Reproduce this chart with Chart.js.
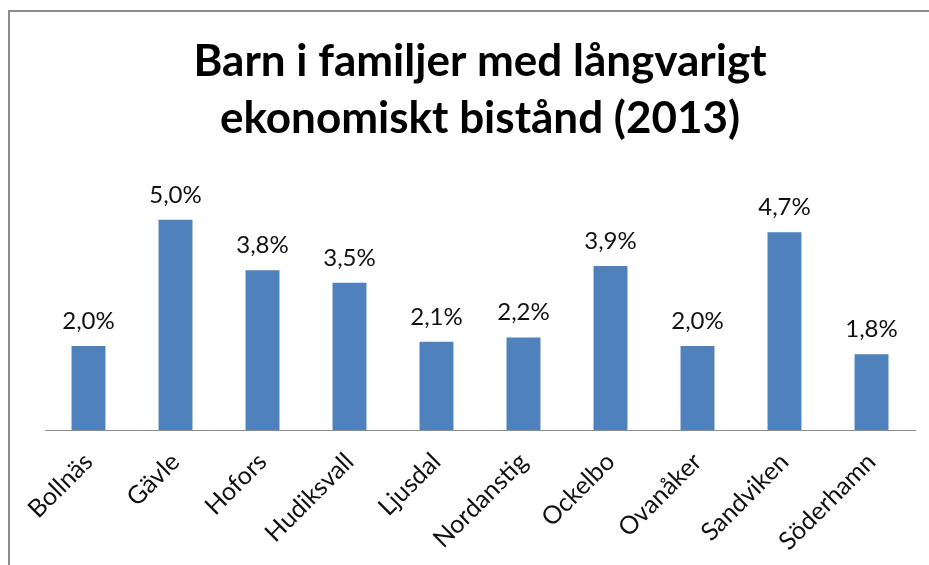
<!DOCTYPE html>
<html lang="sv">

<head>
    <meta charset="UTF-8">
    <title>Barn i familjer med långvarigt ekonomiskt bistånd (2013)</title>
    <style>
        html, body {
            margin: 0;
            padding: 0;
            background-color: #fff;
            overflow: hidden;
        }

        .frame {
            position: absolute;
            left: 8px;
            top: 10px;
            width: 960px;
            height: 600px;
            border: 2px solid #8c8c8c;
        }

        .chart-container {
            position: absolute;
            left: 0;
            top: 0;
            width: 929px;
            height: 565px;
        }
    </style>
</head>

<body>
    <div class="frame"></div>
    <div class="chart-container">
        <canvas id="bistand-chart" width="929" height="565"></canvas>
    </div>
    <script src="https://cdn.jsdelivr.net/npm/chart.js"></script>
    <script>
    const kommuner = ['Bollnäs', 'Gävle', 'Hofors', 'Hudiksvall', 'Ljusdal', 'Nordanstig', 'Ockelbo', 'Ovanåker', 'Sandviken', 'Söderhamn'];
    const andel = [2.0, 5.0, 3.8, 3.5, 2.1, 2.2, 3.9, 2.0, 4.7, 1.8];
    const titleLines = ['Barn i familjer med långvarigt', 'ekonomiskt bistånd (2013)'];

    const FONT = 'Lato, "Open Sans", sans-serif';

    // values over the bars, written with a decimal comma
    const valueLabels = {
        id: 'valueLabels',
        afterDatasetsDraw(chart) {
            const ctx = chart.ctx;
            const meta = chart.getDatasetMeta(0);
            ctx.save();
            ctx.font = '24px ' + FONT;
            ctx.fillStyle = '#111';
            ctx.textAlign = 'center';
            ctx.textBaseline = 'alphabetic';
            meta.data.forEach((bar, i) => {
                const txt = andel[i].toFixed(1).replace('.', ',') + '%';
                ctx.fillText(txt, bar.x, bar.y - 17);
            });
            ctx.restore();
        }
    };

    const ctx = document.getElementById('bistand-chart').getContext('2d');
    new Chart(ctx, {
        type: 'bar',
        data: {
            labels: kommuner,
            datasets: [{
                data: andel,
                backgroundColor: '#4f81bd',
                borderWidth: 0,
                categoryPercentage: 1,
                barPercentage: 0.39
            }]
        },
        options: {
            responsive: false,
            animation: false,
            layout: {
                padding: { left: 45, right: 14, top: 0, bottom: 0 }
            },
            plugins: {
                legend: { display: false },
                tooltip: { enabled: false },
                title: {
                    display: true,
                    text: titleLines,
                    color: '#000',
                    font: { family: FONT, size: 44, weight: 'bold', lineHeight: 1.28 },
                    padding: { top: 34, bottom: 31 }
                }
            },
            scales: {
                x: {
                    grid: { display: false },
                    border: { display: true, color: '#8c8c8c', width: 1 },
                    ticks: {
                        color: '#111',
                        font: { family: FONT, size: 25 },
                        minRotation: 45,
                        maxRotation: 45,
                        autoSkip: false,
                        padding: 9
                    },
                    afterFit(scale) {
                        scale.height = 135;
                    }
                },
                y: {
                    display: false,
                    min: 0,
                    max: 6
                }
            }
        },
        plugins: [valueLabels]
    });
    </script>
</body>

</html>
